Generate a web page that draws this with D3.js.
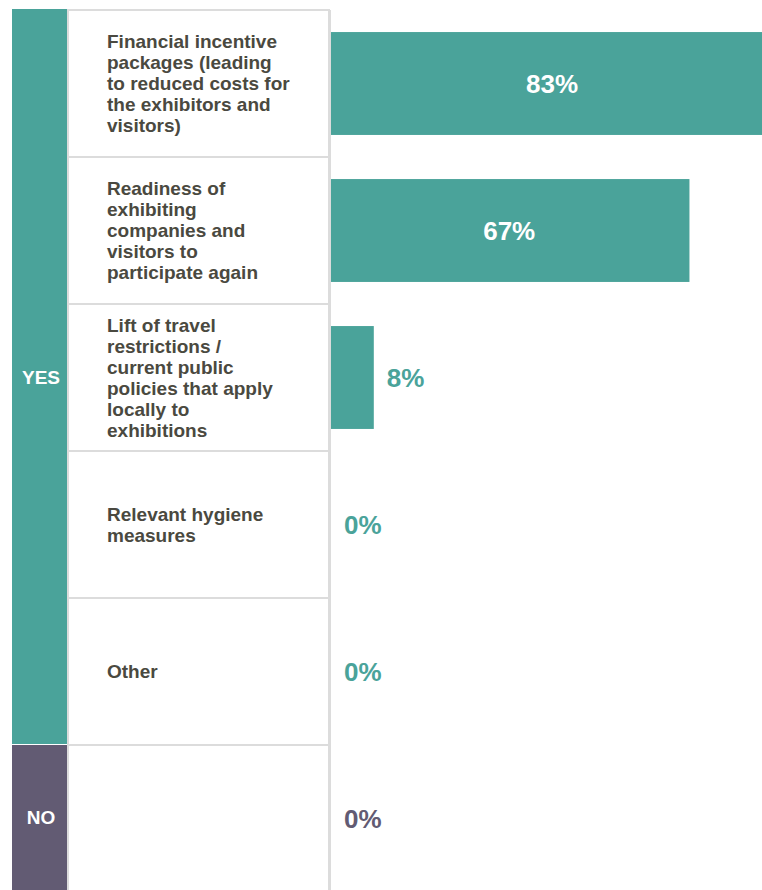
<!DOCTYPE html>
<html>
<head>
<meta charset="utf-8">
<script src="https://cdn.jsdelivr.net/npm/d3@7/dist/d3.min.js"></script>
<style>
  html, body { margin: 0; padding: 0; background: #fff; overflow: hidden; }
  svg { display: block; }
  svg text { font-family: "Liberation Sans", Arial, Helvetica, sans-serif; font-weight: bold; }
</style>
</head>
<body>
<div id="chart"></div>
<script>
// ---- data ----
const categories = [
  "Financial incentive packages (leading to reduced costs for the exhibitors and visitors)",
  "Readiness of exhibiting companies and visitors to participate again",
  "Lift of travel restrictions / current public policies that apply locally to exhibitions",
  "Relevant hygiene measures",
  "Other",
  ""
];
const labelLines = [
  ["Financial incentive", "packages (leading", "to reduced costs for", "the exhibitors and", "visitors)"],
  ["Readiness of", "exhibiting", "companies and", "visitors to", "participate again"],
  ["Lift of travel", "restrictions /", "current public", "policies that apply", "locally to", "exhibitions"],
  ["Relevant hygiene", "measures"],
  ["Other"],
  []
];
const values = [83, 67, 8, 0, 0, 0];
const groups = ["YES", "YES", "YES", "YES", "YES", "NO"];
const groupNames = ["YES", "NO"];

// ---- layout ----
const W = 762, H = 890;
const teal = "#4aa39a", purple = "#625b73";
const grid = "#dcdcdc", textCol = "#4a4940";

const svg = d3.select("#chart").append("svg").attr("width", W).attr("height", H);

const y = d3.scaleBand().domain(d3.range(categories.length)).range([10, 892]).padding(0);
const x = d3.scaleLinear().domain([0, 100]).range([330, 865]);
const color = d3.scaleOrdinal().domain(groupNames).range([teal, purple]);

const bw = y.bandwidth();
const barH = bw * 0.70;

// group bands
const groupExtent = groupNames.map(g => {
  const idx = d3.range(categories.length).filter(i => groups[i] === g);
  return { g, y0: y(d3.min(idx)), y1: y(d3.max(idx)) + bw };
});
svg.selectAll("rect.group").data(groupExtent).join("rect")
  .attr("class", "group")
  .attr("x", 12).attr("width", 55)
  .attr("y", d => d.g === "YES" ? d.y0 - 1 : d.y0)
  .attr("height", d => d.y1 - d.y0)
  .attr("fill", d => color(d.g));
svg.selectAll("text.group").data(groupExtent).join("text")
  .attr("class", "group")
  .attr("x", 41).attr("y", d => (d.y0 + Math.min(d.y1, H)) / 2)
  .attr("dy", "0.35em")
  .attr("text-anchor", "middle")
  .attr("fill", "#fff")
  .attr("font-size", 19)
  .text(d => d.g);

// label boxes
const rows = svg.selectAll("g.row").data(d3.range(categories.length)).join("g").attr("class", "row");
rows.append("rect")
  .attr("x", 68).attr("y", i => y(i))
  .attr("width", 261).attr("height", bw)
  .attr("fill", "#fff").attr("stroke", grid).attr("stroke-width", 2);

// vertical axis line at x=0
svg.append("line")
  .attr("x1", x(0)).attr("x2", x(0))
  .attr("y1", 10).attr("y2", H)
  .attr("stroke", grid).attr("stroke-width", 2);

// labels
rows.each(function(i) {
  const lines = labelLines[i];
  const lh = 21;
  const cy = y(i) + bw / 2;
  const t = d3.select(this).append("text")
    .attr("x", 107)
    .attr("fill", textCol)
    .attr("font-size", 19);
  lines.forEach((ln, k) => {
    t.append("tspan").attr("x", 107)
      .attr("y", cy - (lines.length * lh) / 2 + k * lh + lh / 2)
      .attr("dy", "0.35em")
      .text(ln);
  });
});

// bars
svg.selectAll("rect.bar").data(values).join("rect")
  .attr("class", "bar")
  .attr("x", x(0) + 1)
  .attr("y", (d, i) => y(i) + (bw - barH) / 2)
  .attr("width", d => Math.max(0, x(d) - x(0)))
  .attr("height", barH)
  .attr("fill", (d, i) => color(groups[i]));

// value labels
svg.selectAll("text.val").data(values).join("text")
  .attr("class", "val")
  .attr("x", d => (x(d) - x(0) > 100) ? (x(0) + x(d)) / 2 : x(d) + 14)
  .attr("y", (d, i) => y(i) + bw / 2)
  .attr("dy", "0.36em")
  .attr("text-anchor", d => (x(d) - x(0) > 100) ? "middle" : "start")
  .attr("fill", (d, i) => (x(d) - x(0) > 100) ? "#fff" : color(groups[i]))
  .attr("font-size", 26)
  .text(d => d + "%");
</script>
</body>
</html>
